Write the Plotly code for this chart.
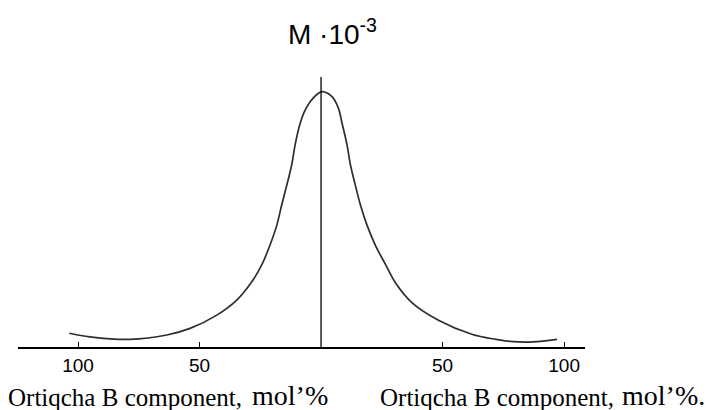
import plotly.graph_objects as go

# Excess B component (negative = left branch, positive = right branch), mol%
composition = [-103.6, -95.1, -78.6, -63.5, -53.9, -42.9, -34.7, -28.5, -24.4, -21.0,
               -18.2, -16.2, -14.1, -12.1, -10.7, -8.8, -7.0, -4.5, -1.1, 0.6,
               4.5, 7.0, 8.8, 10.7, 12.1, 14.1, 16.2, 18.9, 22.3, 26.5,
               30.6, 37.6, 48.3, 62.0, 72.0, 79.0, 87.2, 97.1]
# M * 10^-3 (arbitrary units)
molar_mass = [0.54, 0.40, 0.30, 0.47, 0.73, 1.25, 1.84, 2.56, 3.22, 4.00,
              4.78, 5.57, 6.35, 7.14, 7.92, 8.71, 9.20, 9.62, 9.95, 10.02,
              9.82, 9.40, 8.71, 7.92, 7.14, 6.35, 5.57, 4.78, 4.00, 3.24,
              2.52, 1.72, 1.05, 0.50, 0.30, 0.21, 0.20, 0.30]

tick_values = [-100, -50, 50, 100]
tick_labels = ["100", "50", "50", "100"]

label_main = "Ortiqcha B component,"
label_unit_left = "mol’%"
label_unit_right = "mol’%."
y_title = "M ·10<sup>-3</sup>"

fig = go.Figure()
fig.add_trace(go.Scatter(
    x=composition, y=molar_mass, mode="lines",
    line=dict(color="#2e2e2e", width=1.7, shape="spline", smoothing=1.0),
    hoverinfo="skip", showlegend=False,
))

fig.add_shape(type="line", xref="x", yref="paper", x0=0, x1=0, y0=0, y1=1,
              line=dict(color="black", width=1.3))

serif = dict(family="Liberation Serif, Times New Roman", size=25, color="black")
serif_big = dict(family="Liberation Serif, Times New Roman", size=28, color="black")


def px_x(p):
    return (p - 18) / 567.0


def px_y(p):
    return (347 - p) / 270.0


fig.update_layout(
    width=709, height=410,
    margin=dict(l=18, r=124, t=77, b=63, pad=0),
    paper_bgcolor="white", plot_bgcolor="white",
    xaxis=dict(
        range=[-124.7, 108.6], showgrid=False, zeroline=False,
        showline=True, linecolor="black", linewidth=1.5,
        tickmode="array", tickvals=tick_values, ticktext=tick_labels,
        ticks="inside", ticklen=5, tickwidth=1, tickcolor="black",
        tickfont=dict(family="Liberation Sans, Arial", size=19, color="black"),
    ),
    yaxis=dict(range=[0, 10.59], visible=False),
    annotations=[
        dict(text=label_main, xref="paper", yref="paper", x=px_x(244), y=px_y(413),
             showarrow=False, xanchor="right", yanchor="bottom", font=serif),
        dict(text=label_unit_left, xref="paper", yref="paper", x=px_x(250), y=px_y(413),
             showarrow=False, xanchor="left", yanchor="bottom", font=serif_big),
        dict(text=label_main, xref="paper", yref="paper", x=px_x(616), y=px_y(413),
             showarrow=False, xanchor="right", yanchor="bottom", font=serif),
        dict(text=label_unit_right, xref="paper", yref="paper", x=px_x(620), y=px_y(413),
             showarrow=False, xanchor="left", yanchor="bottom", font=serif_big),
        dict(text=y_title, xref="paper", yref="paper", x=px_x(332), y=px_y(52),
             showarrow=False, xanchor="center", yanchor="bottom",
             font=dict(family="Liberation Sans, Arial", size=28, color="black")),
    ],
)

fig.write_html("out.html")
